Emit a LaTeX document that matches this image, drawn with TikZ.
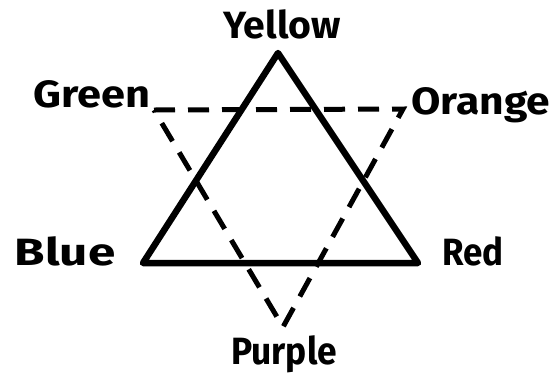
\documentclass[tikz,border=0pt]{standalone}
\usepackage{fontspec}
\setmainfont{Fira Sans}
\begin{document}
\begin{tikzpicture}[x=1pt,y=-1pt,
  solidtri/.style={line width=6.5pt, line join=round, line cap=round},
  dashtri/.style={line width=5pt, dash pattern=on 21pt off 13pt, line join=miter},
  lab/.style={font=\fontsize{38}{38}\selectfont\bfseries, anchor=base, inner sep=0pt}]
\useasboundingbox (0,0) rectangle (553,373);
% dashed triangle
\coordinate (g) at (154,110);
\coordinate (o) at (403,109);
\coordinate (p) at (283,327);
\draw[dashtri] (g) -- (o) -- (p) -- cycle;
% solid triangle
\coordinate (y) at (278,53);
\coordinate (b) at (143,263);
\coordinate (r) at (418,263);
\draw[solidtri] (y) -- (r) -- (b) -- cycle;
% labels
\node[lab, xscale=1.03] (ly) at (282,38) {Yellow};
\node[lab, xscale=1.14] (lg) at (92,107) {Green};
\node[lab, xscale=1.12] (lo) at (481,114) {Orange};
\node[lab, xscale=1.3] (lb) at (65,265) {Blue};
\node[lab, xscale=0.92] (lr) at (473,265) {Red};
\node[lab, xscale=0.93] (lp) at (284,364) {Purple};
\end{tikzpicture}
\end{document}
